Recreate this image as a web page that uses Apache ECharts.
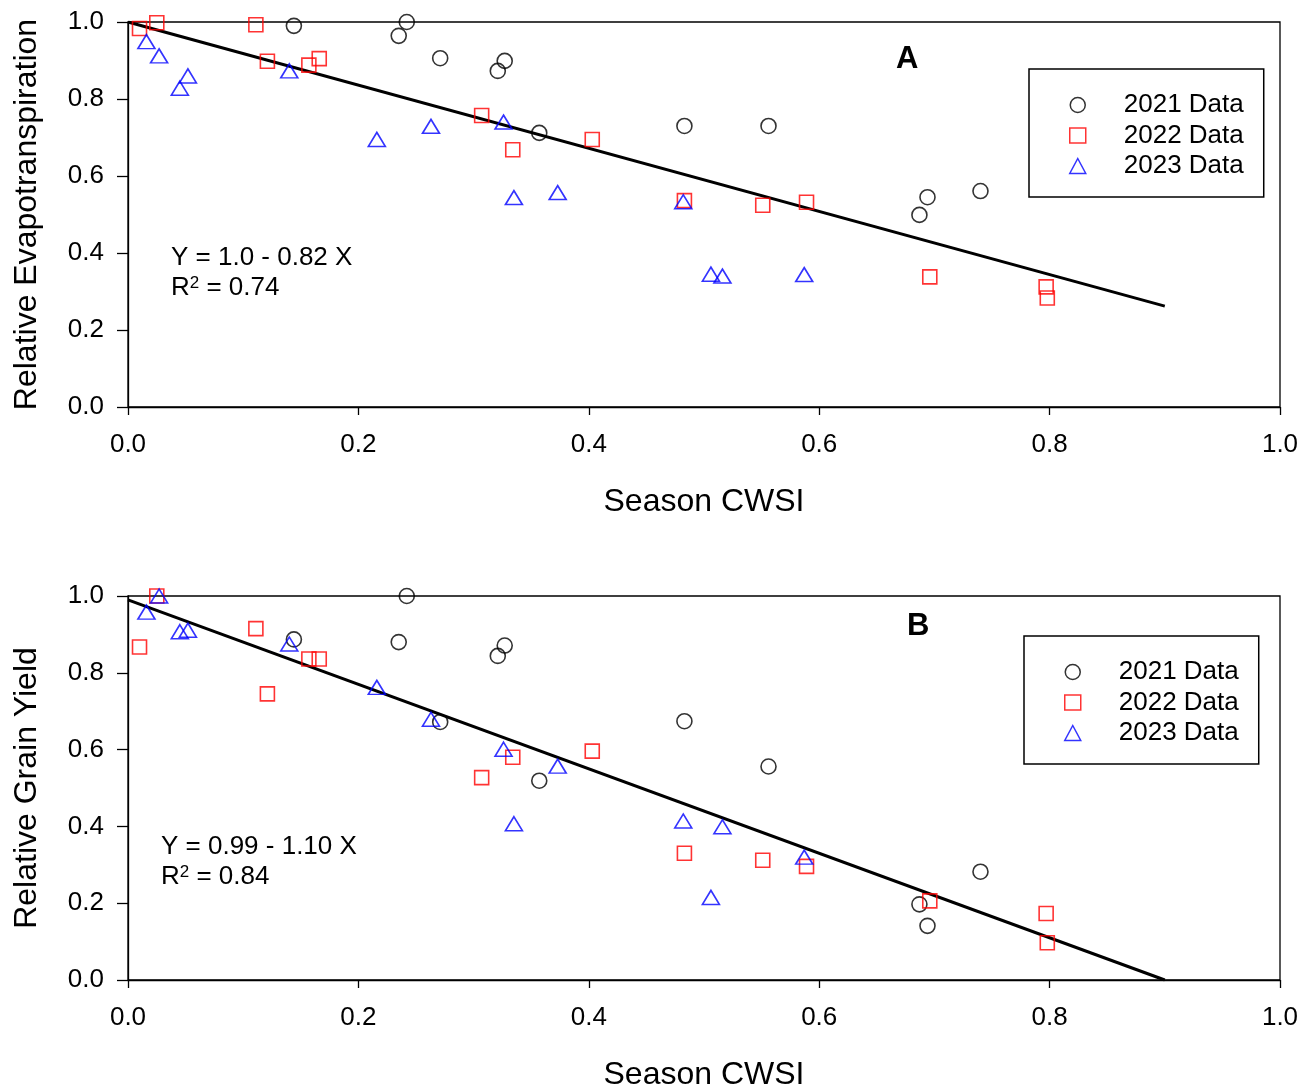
<!DOCTYPE html>
<html>
<head>
<meta charset="utf-8">
<script src="https://cdn.jsdelivr.net/npm/echarts@6/dist/echarts.min.js"></script>
<style>
html,body{margin:0;padding:0;background:#fff;}
#chart{width:1311px;height:1088px;}
</style>
</head>
<body>
<div id="chart"></div>
<script>
// ---- data ----
const seriesNames = ['2021 Data', '2022 Data', '2023 Data'];
const xTicks = ['0.0', '0.2', '0.4', '0.6', '0.8', '1.0'];

const cwsi2021 = [0.144, 0.235, 0.242, 0.271, 0.321, 0.327, 0.357, 0.483, 0.556, 0.687, 0.694, 0.740];
const et2021   = [0.990, 0.964, 1.000, 0.906, 0.873, 0.899, 0.712, 0.730, 0.730, 0.499, 0.545, 0.561];
const gy2021   = [0.887, 0.880, 1.000, 0.672, 0.844, 0.871, 0.519, 0.674, 0.556, 0.197, 0.141, 0.282];

const cwsi2022 = [0.010, 0.025, 0.111, 0.121, 0.157, 0.166, 0.307, 0.334, 0.403, 0.483, 0.551, 0.589, 0.696, 0.797, 0.798];
const et2022   = [0.983, 0.998, 0.993, 0.898, 0.888, 0.905, 0.757, 0.668, 0.695, 0.536, 0.524, 0.532, 0.338, 0.312, 0.283];
const gy2022   = [0.867, 1.000, 0.915, 0.745, 0.836, 0.836, 0.527, 0.580, 0.596, 0.330, 0.312, 0.296, 0.206, 0.173, 0.097];

const cwsi2023 = [0.016, 0.027, 0.045, 0.052, 0.140, 0.216, 0.263, 0.326, 0.335, 0.373, 0.482, 0.506, 0.516, 0.587];
const et2023   = [0.949, 0.912, 0.828, 0.860, 0.873, 0.695, 0.729, 0.740, 0.544, 0.557, 0.533, 0.345, 0.340, 0.344];
const gy2023   = [0.958, 1.000, 0.907, 0.911, 0.875, 0.762, 0.679, 0.601, 0.407, 0.557, 0.414, 0.215, 0.399, 0.320];

// regression line end points (as drawn)
const fitX   = [0, 0.9];
const fitEtY = [1.0, 0.262];
const fitGyY = [0.99, 0.0];

// ---- helpers ----
const zip = (xs, ys) => xs.map((x, i) => [x, ys[i]]);
const FONT = '"Liberation Sans", Arial, sans-serif';

const styles = [
  { symbol: 'circle', size: 15, color: '#000000' },
  { symbol: 'rect', size: 14, color: '#ff0000' },
  { symbol: 'triangle', size: [17, 14], color: '#0000ff' }
];

function scatter(name, data, idx, st) {
  return {
    type: 'scatter', name: name, xAxisIndex: idx, yAxisIndex: idx,
    data: data, symbol: st.symbol, symbolSize: st.size, clip: false,
    itemStyle: { color: 'rgba(0,0,0,0)', borderColor: st.color, borderWidth: 1.6 },
    emphasis: { disabled: true }, z: 3
  };
}
function fitLine(ys, idx) {
  return {
    type: 'line', name: 'fit' + idx, xAxisIndex: idx, yAxisIndex: idx,
    data: zip(fitX, ys), symbol: 'none', silent: true,
    lineStyle: { color: '#000', width: 3 }, z: 2
  };
}
function xAxis(idx) {
  return {
    type: 'value', gridIndex: idx, min: 0, max: 1, interval: 0.2,
    name: 'Season CWSI', nameLocation: 'middle', nameGap: 79,
    nameTextStyle: { fontFamily: FONT, fontSize: 32, color: '#000' },
    axisLine: { show: true, lineStyle: { color: '#000', width: 1.3 } },
    axisTick: { show: true, length: 8, lineStyle: { color: '#000', width: 1.3 } },
    axisLabel: { margin: 25, fontFamily: FONT, fontSize: 26, color: '#000',
      formatter: v => xTicks[Math.round(v / 0.2)] },
    splitLine: { show: false }
  };
}
function yAxis(idx, title) {
  return {
    type: 'value', gridIndex: idx, min: 0, max: 1, interval: 0.2,
    name: title, nameLocation: 'middle', nameGap: 85,
    nameTextStyle: { fontFamily: FONT, fontSize: 32, color: '#000' },
    axisLine: { show: true, lineStyle: { color: '#000', width: 1.3 } },
    axisTick: { show: true, length: 11, lineStyle: { color: '#000', width: 1.3 } },
    axisLabel: { margin: 24, fontFamily: FONT, fontSize: 26, color: '#000',
      formatter: v => xTicks[Math.round(v / 0.2)] },
    splitLine: { show: false }
  };
}
function legend(left, top) {
  return {
    orient: 'vertical', left: left, top: top,
    padding: [23, 20, 18, 40],
    borderColor: '#000', borderWidth: 1.5, backgroundColor: '#fff',
    itemWidth: 16, itemHeight: 15, itemGap: 4.5,
    selectedMode: false,
    textStyle: { fontFamily: FONT, fontSize: 26, color: '#000', lineHeight: 25, padding: [0, 0, 0, 33] },
    data: seriesNames.map((n, i) => ({
      name: n, icon: styles[i].symbol,
      itemStyle: { color: 'rgba(0,0,0,0)', borderColor: styles[i].color, borderWidth: 1.5 }
    }))
  };
}
function eqText(x, y, line1, r2) {
  return [
    { type: 'text', left: x, top: y, z: 10,
      style: { text: line1, font: '26px ' + FONT, fill: '#000' } },
    { type: 'text', left: x, top: y + 30, z: 10,
      style: { text: 'R{s|2} = ' + r2, font: '26px ' + FONT, fill: '#000',
        rich: { s: { fontSize: 17, fontFamily: FONT, verticalAlign: 'top', lineHeight: 14 } } } }
  ];
}

const chart = echarts.init(document.getElementById('chart'), null, { renderer: 'canvas' });
chart.setOption({
  animation: false,
  backgroundColor: '#fff',
  grid: [
    { left: 128, top: 22, width: 1152, height: 385, show: true, borderColor: '#000', borderWidth: 1.3,
      backgroundColor: 'transparent', containLabel: false, outerBoundsMode: 'none' },
    { left: 128, top: 596, width: 1152, height: 384, show: true, borderColor: '#000', borderWidth: 1.3,
      backgroundColor: 'transparent', containLabel: false, outerBoundsMode: 'none' }
  ],
  xAxis: [xAxis(0), xAxis(1)],
  yAxis: [yAxis(0, 'Relative Evapotranspiration'), yAxis(1, 'Relative Grain Yield')],
  legend: [legend(1029, 69), legend(1024, 636)],
  graphic: [].concat(
    eqText(171, 245, 'Y = 1.0 - 0.82 X', '0.74'),
    eqText(161, 834, 'Y = 0.99 - 1.10 X', '0.84'),
    [
      { type: 'text', left: 896, top: 44, z: 10, style: { text: 'A', font: 'bold 31px ' + FONT, fill: '#000' } },
      { type: 'text', left: 907, top: 611, z: 10, style: { text: 'B', font: 'bold 31px ' + FONT, fill: '#000' } }
    ]
  ),
  series: [
    fitLine(fitEtY, 0),
    fitLine(fitGyY, 1),
    scatter(seriesNames[0], zip(cwsi2021, et2021), 0, styles[0]),
    scatter(seriesNames[1], zip(cwsi2022, et2022), 0, styles[1]),
    scatter(seriesNames[2], zip(cwsi2023, et2023), 0, styles[2]),
    scatter(seriesNames[0], zip(cwsi2021, gy2021), 1, styles[0]),
    scatter(seriesNames[1], zip(cwsi2022, gy2022), 1, styles[1]),
    scatter(seriesNames[2], zip(cwsi2023, gy2023), 1, styles[2])
  ]
});
</script>
</body>
</html>
